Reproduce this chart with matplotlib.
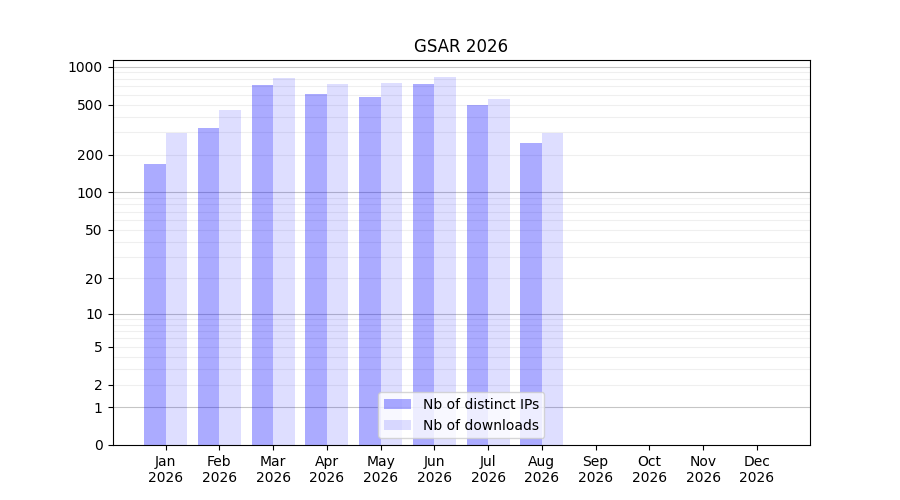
import numpy as np
import matplotlib
matplotlib.use("Agg")
import matplotlib.pyplot as plt

# monthly stats for GSAR 2026
months = ["Jan", "Feb", "Mar", "Apr", "May", "Jun",
          "Jul", "Aug", "Sep", "Oct", "Nov", "Dec"]
year = "2026"
distinct_ips = [169, 327, 720, 611, 578, 734, 499, 248, 0, 0, 0, 0]
downloads = [298, 455, 820, 734, 748, 835, 557, 298, 0, 0, 0, 0]

y_ticks = [0, 1, 2, 5, 10, 20, 50, 100, 200, 500, 1000]


def fwd(v):
    return np.log10(1 + np.clip(v, 0, None))


def inv(v):
    return 10 ** v - 1


fig, ax = plt.subplots(figsize=(9, 5), dpi=100)
ax.set_yscale("function", functions=(fwd, inv))

x = np.arange(len(months))
w = 0.4
ax.bar(x - w / 2, distinct_ips, width=w, color="blue", alpha=0.33,
       label="Nb of distinct IPs", zorder=2)
ax.bar(x + w / 2, downloads, width=w, color="blue", alpha=0.13,
       label="Nb of downloads", zorder=2)

# grid: decades darker, intermediate values lighter
for dec in [1, 10, 100]:
    for k in range(2, 10):
        ax.axhline(dec * k, color="grey", alpha=0.12, linewidth=0.8, zorder=1)
for dec in [1, 10, 100, 1000]:
    ax.axhline(dec, color="grey", alpha=0.45, linewidth=0.8, zorder=1)

ax.set_yticks(y_ticks)
ax.set_yticklabels([str(t) for t in y_ticks])
ax.yaxis.set_minor_locator(matplotlib.ticker.NullLocator())
ax.set_ylim(0, 1130)

ax.set_xticks(x)
ax.set_xticklabels([f"{m}\n{year}" for m in months])

ax.set_title("GSAR 2026")
ax.legend(loc="lower center")

fig.savefig("out.png")
